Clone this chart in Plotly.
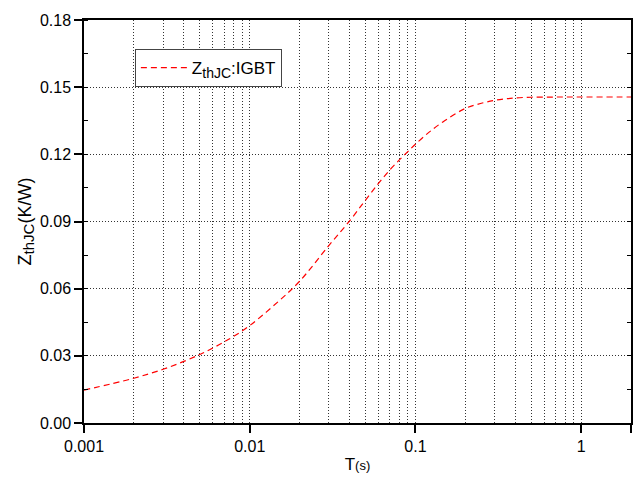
import plotly.graph_objects as go

# Data
T = [0.001, 0.002, 0.003, 0.004, 0.005, 0.006, 0.007, 0.008, 0.01, 0.015, 0.02,
     0.03, 0.04, 0.05, 0.06, 0.07, 0.08, 0.09, 0.1, 0.12, 0.15, 0.2, 0.25, 0.3,
     0.35, 0.4, 0.5, 0.7, 1, 2]
Z = [0.0147, 0.0200, 0.0240, 0.0275, 0.0306, 0.0335, 0.0362, 0.0387, 0.0435,
     0.0545, 0.0633, 0.0792, 0.0902, 0.0996, 0.1071, 0.113, 0.1175, 0.1212,
     0.1245, 0.1297, 0.1350, 0.1405, 0.1428, 0.1441, 0.1448, 0.1452, 0.1455,
     0.1456, 0.1456, 0.1456]

x_major = [0.001, 0.01, 0.1, 1, 2]
x_major_labels = ["0.001", "0.01", "0.1", "1", "2"]
x_minor = [m * 10 ** e for e in (-3, -2, -1) for m in range(2, 10)] + [1, 2]

FONT = "Liberation Sans, Arial, sans-serif"
GRID = "#333333"

fig = go.Figure()
fig.add_trace(go.Scatter(
    x=T, y=Z, mode="lines", line_shape="spline",
    line=dict(color="#ff0000", width=1.2, dash="6px,4px"),
    name="Z<sub><span style='font-size:14px'>thJC</span></sub>:IGBT",
))
fig.add_trace(go.Scatter(x=[None], y=[None], yaxis="y2", showlegend=False,
                         hoverinfo="skip"))

fig.update_layout(
    width=635, height=477,
    margin=dict(l=84, r=4, t=20, b=54),
    paper_bgcolor="white", plot_bgcolor="white",
    font=dict(family=FONT, size=16, color="black"),
    showlegend=True,
    legend=dict(x=0.093, y=0.8337, xanchor="left", yanchor="bottom",
                bordercolor="#444444", borderwidth=1, bgcolor="white",
                font=dict(size=17), tracegroupgap=0, itemwidth=46),
    xaxis=dict(
        type="log", range=[-3, 0.30103],
        tickmode="array", tickvals=x_major, ticktext=x_major_labels,
        ticks="outside", ticklen=8, tickwidth=1.5, tickcolor="black",
        showline=True, linecolor="black", linewidth=1.5, mirror=True,
        showgrid=True, gridcolor=GRID, gridwidth=1, griddash="1px,2px",
        minor=dict(tickmode="array", tickvals=x_minor, ticks="",
                   showgrid=True, gridcolor=GRID, gridwidth=1, griddash="1px,2px"),
        zeroline=False,
        title=dict(text="T<span style='font-size:13px'>(s)</span>",
                   standoff=4, font=dict(size=17)),
        tickfont=dict(size=16),
    ),
    yaxis=dict(
        range=[0, 0.18], tickmode="linear", tick0=0, dtick=0.03, tickformat=".2f",
        ticks="outside", ticklen=8, tickwidth=1.5, tickcolor="black",
        showline=True, linecolor="black", linewidth=1.5,
        showgrid=True, gridcolor=GRID, gridwidth=1, griddash="1px,2px",
        minor=dict(dtick=0.015, tick0=0, ticks="inside", ticklen=4, tickwidth=1.2,
                   tickcolor="black", showgrid=False),
        zeroline=False,
        title=dict(text="Z<sub><span style='font-size:15px'>thJC</span></sub>(K/W)",
                   standoff=4, font=dict(size=18)),
        tickfont=dict(size=16),
    ),
    yaxis2=dict(
        overlaying="y", side="right", range=[0, 0.18],
        tickmode="linear", tick0=0, dtick=0.03,
        ticks="inside", ticklen=4, tickwidth=1.2, tickcolor="black",
        showticklabels=False,
        showline=True, linecolor="black", linewidth=1.5,
        showgrid=False, zeroline=False,
        minor=dict(dtick=0.015, tick0=0, ticks="inside", ticklen=4, tickwidth=1.2,
                   tickcolor="black", showgrid=False),
    ),
)

fig.write_html("out.html")
